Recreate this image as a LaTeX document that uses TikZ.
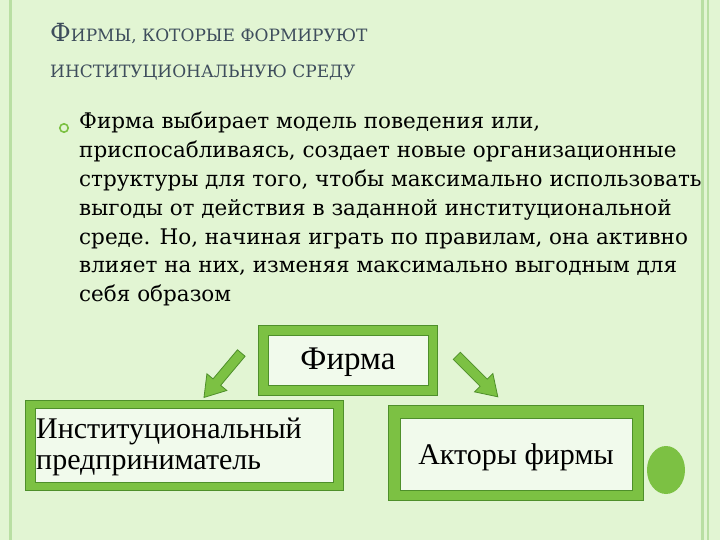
\documentclass[tikz,border=0pt]{standalone}
\usepackage{fontspec}
\setmainfont{Liberation Serif}
\newfontfamily\bodyf{DejaVu Serif}
\definecolor{bg}{HTML}{E2F5D3}
\definecolor{gr}{HTML}{7CC143}
\definecolor{grd}{HTML}{4E8F2A}
\definecolor{inner}{HTML}{F1FAEC}
\definecolor{ttl}{HTML}{3E4D5C}
\definecolor{edge}{HTML}{B9DFA3}
\tikzset{
 outerbox/.style={draw=grd, line width=0.8pt, fill=gr},
 innerbox/.style={draw=grd, line width=0.8pt, fill=inner},
 arr/.style={draw=grd, line width=0.8pt, fill=gr},
}
\begin{document}
\begin{tikzpicture}[x=1pt,y=-1pt]
\useasboundingbox (0,0) rectangle (720,540);
\fill[bg] (0,0) rectangle (720,540);
\draw[edge, line width=3pt] (10,-5) -- (10,545);
\draw[edge, line width=3pt] (702,-5) -- (702,545);
\draw[edge, line width=2pt] (708,-5) -- (708,545);
% title
\node[anchor=base west, text=ttl, inner sep=0] (t1) at (50,42) {\bodyf\fontsize{25}{25}\selectfont Ф\fontsize{17}{17}\selectfont ИРМЫ, КОТОРЫЕ ФОРМИРУЮТ};
\node[anchor=base west, text=ttl, inner sep=0] (t2) at (50,78) {\bodyf\fontsize{17}{17}\selectfont ИНСТИТУЦИОНАЛЬНУЮ СРЕДУ};
% bullet
\draw[gr, line width=1.6pt] (64,128) circle (4.2);
\node[anchor=north west, inner sep=0, align=left, font=\bodyf\fontsize{21.5}{28.8}\selectfont] (body) at (79,112) {%
Фирма выбирает модель поведения или,\\
приспосабливаясь, создает новые организационные\\
структуры для того, чтобы максимально использовать\\
выгоды от действия в заданной институциональной\\
среде. Но, начиная играть по правилам, она активно\\
влияет на них, изменяя максимально выгодным для\\
себя образом};
% boxes
\draw[outerbox] (258,325) rectangle (437,395);
\draw[innerbox] (268,335) rectangle (428,385);
\node (firm) at (348,362) {\fontsize{33}{33}\selectfont Фирма};
\draw[outerbox] (25,400) rectangle (343,490);
\draw[innerbox] (35,408) rectangle (333,482);
\node[align=left, anchor=west, inner sep=0, font=\fontsize{30}{31}\selectfont] (inst) at (36,447) {Институциональный\\предприниматель};
\draw[outerbox] (388,405) rectangle (643,500);
\draw[innerbox] (400,418) rectangle (632,490);
\node (act) at (516,457) {\fontsize{30}{30}\selectfont Акторы фирмы};
\fill[gr] (666,470) ellipse (19 and 24);
% arrows
\begin{scope}[shift={(222,376)}, rotate=-130]
\draw[arr] (-30,-5) -- (8,-5) -- (8,-13) -- (28,0) -- (8,13) -- (8,5) -- (-30,5) -- cycle;
\end{scope}
\begin{scope}[shift={(478,377)}, rotate=-45]
\draw[arr] (-30,-5) -- (8,-5) -- (8,-13) -- (28,0) -- (8,13) -- (8,5) -- (-30,5) -- cycle;
\end{scope}
\end{tikzpicture}
\end{document}
